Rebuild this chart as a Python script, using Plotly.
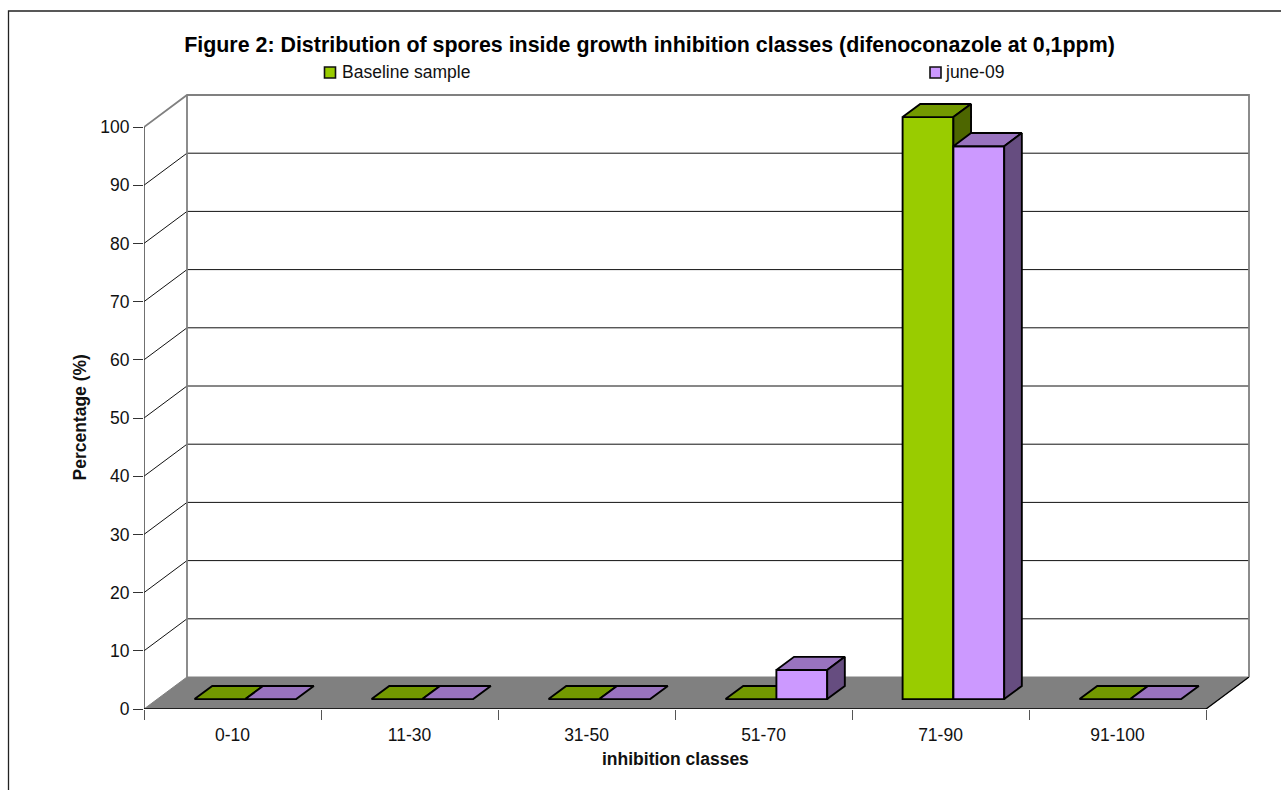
import plotly.graph_objects as go

# Chart data
CLASSES = ["0-10", "11-30", "31-50", "51-70", "71-90", "91-100"]
BASELINE = [0, 0, 0, 0, 100, 0]
JUNE_09 = [0, 0, 0, 5, 95, 0]
Y_TICKS = list(range(0, 101, 10))

TITLE = "Figure 2: Distribution of spores inside growth inhibition classes (difenoconazole at 0,1ppm)"
X_TITLE = "inhibition classes"
Y_TITLE = "Percentage (%)"
FONT = "Liberation Sans"
TEXT_SIZE = 17.5

# Page layout of the front plane, in pixels
W, H = 1281, 790
LEFT, RIGHT, TOP, BOTTOM = 144, 1206, 127, 709
DEPTH_PX_X, DEPTH_PX_Y = 43, 32
PAD_PX = 2  # spare room so the outer wall lines keep their full width

# Oblique projection: how far the back wall is shifted in axis units
UNIT_X = (RIGHT - LEFT) / 6
UNIT_Y = (BOTTOM - TOP) / 100
DEPTH_X = DEPTH_PX_X / UNIT_X
DEPTH_Y = DEPTH_PX_Y / UNIT_Y
BAR_FRONT, BAR_BACK = 0.30, 0.71  # bar position along the depth of the floor
BAR_WIDTH = 0.287
BAR_DX = (BAR_BACK - BAR_FRONT) * DEPTH_X
BAR_DY = (BAR_BACK - BAR_FRONT) * DEPTH_Y
BASE = 0.31 * DEPTH_Y

GREEN = ("#99CC00", "#739900", "#4D6600")   # front, top, side
PURPLE = ("#CC99FF", "#9973BF", "#664D80")
WALL = "#808080"

X_RANGE = [0, 6 + DEPTH_X + PAD_PX / UNIT_X]
Y_RANGE = [0, 100 + DEPTH_Y + PAD_PX / UNIT_Y]


def px(x):
    return (x - LEFT) / (RIGHT + DEPTH_PX_X + PAD_PX - LEFT)


def py(y):
    return (BOTTOM - y) / (BOTTOM - TOP + DEPTH_PX_Y + PAD_PX)


def line_trace(xs, ys, color, width):
    return go.Scatter(x=xs, y=ys, mode="lines", line=dict(color=color, width=width),
                      hoverinfo="skip", showlegend=False)


def series_traces(name, values, offset, colors, axis):
    """Front faces as bars; top and side faces projected from the same values."""
    xa, ya = axis
    lefts = [i + 0.5 + BAR_FRONT * DEPTH_X + offset - BAR_WIDTH / 2 for i in range(len(values))]
    centers = [l + BAR_WIDTH / 2 for l in lefts]
    outline = dict(color="#000000", width=1.9)
    bar = go.Bar(x=centers, y=values, base=[BASE] * len(values), width=BAR_WIDTH, name=name,
                 marker=dict(color=colors[0], line=outline),
                 showlegend=False, xaxis=xa, yaxis=ya)
    top_x, top_y, side_x, side_y = [], [], [], []
    for l, v in zip(lefts, values):
        r = l + BAR_WIDTH
        t = BASE + v
        top_x += [l, r, r + BAR_DX, l + BAR_DX, l, None]
        top_y += [t, t, t + BAR_DY, t + BAR_DY, t, None]
        if v > 0:
            side_x += [r, r + BAR_DX, r + BAR_DX, r, r, None]
            side_y += [BASE, BASE + BAR_DY, t + BAR_DY, t, BASE, None]
    top = go.Scatter(x=top_x, y=top_y, mode="lines", fill="toself", fillcolor=colors[1], line=outline,
                     hoverinfo="skip", showlegend=False, xaxis=xa, yaxis=ya)
    side = go.Scatter(x=side_x, y=side_y, mode="lines", fill="toself", fillcolor=colors[2], line=outline,
                      hoverinfo="skip", showlegend=False, xaxis=xa, yaxis=ya)
    return [bar, top, side]


fig = go.Figure()

# Floor
fig.add_trace(go.Scatter(x=[0, DEPTH_X, 6 + DEPTH_X, 6, 0], y=[0, DEPTH_Y, DEPTH_Y, 0, 0],
                         mode="lines", fill="toself", fillcolor=WALL, line=dict(color=WALL, width=1),
                         hoverinfo="skip", showlegend=False))
fig.add_trace(line_trace([6, 6 + DEPTH_X], [0, DEPTH_Y], "#000000", 1.3))

# Gridlines along the side wall and the back wall
for v in Y_TICKS[1:-1]:
    fig.add_trace(line_trace([0, DEPTH_X, 6 + DEPTH_X], [v, v + DEPTH_Y, v + DEPTH_Y], "#111111", 1))

# Wall outlines
fig.add_trace(line_trace([0, DEPTH_X, 6 + DEPTH_X, 6 + DEPTH_X],
                         [100, 100 + DEPTH_Y, 100 + DEPTH_Y, DEPTH_Y], WALL, 1.8))
fig.add_trace(line_trace([DEPTH_X, DEPTH_X], [100 + DEPTH_Y, DEPTH_Y], WALL, 1.8))

# Bars: each series sits on its own overlaid axes so purple covers the green side face
for tr in series_traces("Baseline sample", BASELINE, -BAR_WIDTH / 2, GREEN, ("x2", "y2")):
    fig.add_trace(tr)
for tr in series_traces("june-09", JUNE_09, BAR_WIDTH / 2, PURPLE, ("x3", "y3")):
    fig.add_trace(tr)

text_font = dict(family=FONT, size=TEXT_SIZE, color="#111111")

# Axis lines on the front plane, stopping at 100 and at the last class
shapes = [
    dict(type="line", xref="x", yref="y", x0=0, x1=0, y0=0, y1=100, line=dict(color="#333333", width=1.4)),
    dict(type="line", xref="x", yref="y", x0=0, x1=6, y0=0, y1=0, line=dict(color="#000000", width=1.4)),
]
annotations = []

# Legend swatches and labels
LEGEND = [("Baseline sample", GREEN[0], 324.5, 340), ("june-09", PURPLE[0], 930, 943)]
for label, color, sx, tx in LEGEND:
    shapes.append(dict(type="rect", xref="paper", yref="paper", x0=px(sx), x1=px(sx + 11),
                       y0=py(78), y1=py(67), fillcolor=color, line=dict(color="#111111", width=1.6)))
    annotations.append(dict(xref="paper", yref="paper", x=px(tx), y=py(72), xanchor="left", yanchor="middle",
                            text=label, showarrow=False, font=text_font))

# Axis titles centred on the front plane
annotations.append(dict(xref="paper", yref="paper", x=px((LEFT + RIGHT) / 2), y=py(759),
                        xanchor="center", yanchor="middle", text=f"<b>{X_TITLE}</b>",
                        showarrow=False, font=text_font))
annotations.append(dict(xref="paper", yref="paper", x=px(79.5), y=py((TOP + BOTTOM) / 2),
                        xanchor="center", yanchor="middle", text=f"<b>{Y_TITLE}</b>", textangle=-90,
                        showarrow=False, font=text_font))

# Outer chart frame, open to the page edge on the right and bottom
shapes.append(dict(type="path", xref="paper", yref="paper",
                   path=f"M {px(8.5)} {py(790)} L {px(8.5)} {py(11)} L {px(1281)} {py(11)}",
                   line=dict(color="#222222", width=1.3)))

fig.update_layout(
    width=W, height=H, autosize=False,
    margin=dict(l=LEFT, r=W - RIGHT - DEPTH_PX_X - PAD_PX, t=TOP - DEPTH_PX_Y - PAD_PX, b=H - BOTTOM, pad=0),
    paper_bgcolor="#FFFFFF", plot_bgcolor="rgba(0,0,0,0)",
    font=text_font,
    showlegend=False, barmode="overlay",
    shapes=shapes, annotations=annotations,
    title=dict(text=f"<b>{TITLE}</b>", x=649.5 / W, y=1 - 45 / H, xref="container", yref="container",
               xanchor="center", yanchor="middle", font=dict(family=FONT, size=21.4, color="#000000")),
    xaxis=dict(
        range=X_RANGE, tickmode="array", tickvals=[i + 0.5 for i in range(6)], ticktext=CLASSES,
        ticks="outside", ticklen=10, tickcolor="rgba(0,0,0,0)", ticklabelstandoff=0,
        minor=dict(tickmode="array", tickvals=list(range(7)), ticks="outside", ticklen=10,
                   tickcolor="#555555", tickwidth=1.2, showgrid=False),
        showgrid=False, zeroline=False, showline=False,
    ),
    yaxis=dict(
        range=Y_RANGE, tickmode="array", tickvals=Y_TICKS, ticks="outside", ticklen=10,
        tickcolor="#333333", tickwidth=1.2, showgrid=False, zeroline=False, showline=False,
    ),
    xaxis2=dict(range=X_RANGE, overlaying="x", visible=False),
    yaxis2=dict(range=Y_RANGE, overlaying="y", visible=False),
    xaxis3=dict(range=X_RANGE, overlaying="x", visible=False),
    yaxis3=dict(range=Y_RANGE, overlaying="y", visible=False),
)

fig.write_html("out.html")
